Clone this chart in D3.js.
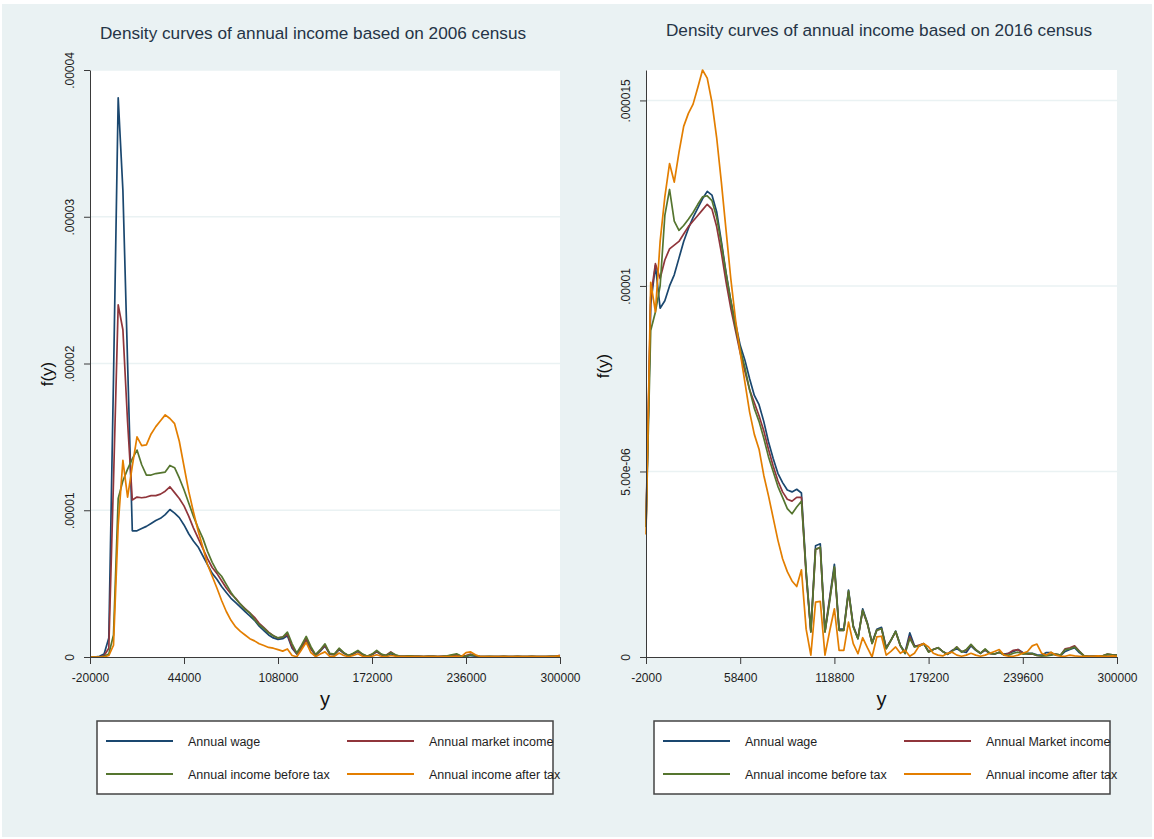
<!DOCTYPE html>
<html>
<head>
<meta charset="utf-8">
<script src="https://cdn.jsdelivr.net/npm/d3@7"></script>
<style>
  body { margin: 0; background: #fff; }
  text { font-family: "Liberation Sans", Arial, sans-serif; }
</style>
</head>
<body>
<div id="chart"></div>
<script>
// Points where the densities were evaluated (income, dollars)
const x2006 = [
  -20000, -16800, -13600, -10400, -7200, -4000, -800, 2400, 5600, 8800,
  12000, 15200, 18400, 21600, 24800, 28000, 31200, 34400, 37600, 40800,
  44000, 47200, 50400, 53600, 56800, 60000, 63200, 66400, 69600, 72800,
  76000, 79200, 82400, 85600, 88800, 92000, 95200, 98400, 101600, 104800,
  108000, 111200, 114400, 117600, 120800, 124000, 127200, 130400, 133600, 136800,
  140000, 143200, 146400, 149600, 152800, 156000, 159200, 162400, 165600, 168800,
  172000, 175200, 178400, 181600, 184800, 188000, 191200, 194400, 197600, 200800,
  204000, 207200, 210400, 213600, 216800, 220000, 223200, 226400, 229600, 232800,
  236000, 239200, 242400, 245600, 248800, 252000, 255200, 258400, 261600, 264800,
  268000, 271200, 274400, 277600, 280800, 284000, 287200, 290400, 293600, 296800,
  300000
];
const x2016 = [
  -2000, 1020, 4040, 7060, 10080, 13100, 16120, 19140, 22160, 25180,
  28200, 31220, 34240, 37260, 40280, 43300, 46320, 49340, 52360, 55380,
  58400, 61420, 64440, 67460, 70480, 73500, 76520, 79540, 82560, 85580,
  88600, 91620, 94640, 97660, 100680, 103700, 106720, 109740, 112760, 115780,
  118800, 121820, 124840, 127860, 130880, 133900, 136920, 139940, 142960, 145980,
  149000, 152020, 155040, 158060, 161080, 164100, 167120, 170140, 173160, 176180,
  179200, 182220, 185240, 188260, 191280, 194300, 197320, 200340, 203360, 206380,
  209400, 212420, 215440, 218460, 221480, 224500, 227520, 230540, 233560, 236580,
  239600, 242620, 245640, 248660, 251680, 254700, 257720, 260740, 263760, 266780,
  269800, 272820, 275840, 278860, 281880, 284900, 287920, 290940, 293960, 296980,
  300000
];

// Density values, in units of 1e-6
const wage2006 = [
  0, 0, 0.05, 0.2, 1.3, 19, 38.1, 31.8, 20, 8.6,
  8.6, 8.75, 8.9, 9.1, 9.3, 9.45, 9.7, 10.05, 9.8, 9.5,
  9.0, 8.4, 7.9, 7.5, 6.9, 6.3, 5.7, 5.3, 4.8, 4.4,
  4.0, 3.7, 3.4, 3.1, 2.8, 2.5, 2.1, 1.8, 1.5, 1.3,
  1.2, 1.25, 1.45, 0.6, 0.2, 0.6, 1.1, 0.55, 0.12, 0.4,
  0.75, 0.2, 0.15, 0.5, 0.25, 0.08, 0.2, 0.38, 0.15, 0.04,
  0.15, 0.35, 0.15, 0.08, 0.22, 0.1, 0.04, 0.04, 0.06, 0.04,
  0.04, 0.02, 0.04, 0.04, 0.02, 0.04, 0.06, 0.1, 0.15, 0.04,
  0.04, 0.1, 0.06, 0.02, 0.02, 0.03, 0.02, 0.02, 0.03, 0.02,
  0.02, 0.03, 0.02, 0.02, 0.03, 0.02, 0.02, 0.02, 0.03, 0.02, 0.03
];
const market2006 = [
  0, 0, 0, 0.1, 0.6, 12, 24.0, 22.3, 16, 10.7,
  10.9, 10.85, 10.9, 11.0, 11.0, 11.1, 11.3, 11.6, 11.2, 10.8,
  10.3, 9.6, 8.8, 8.1, 7.4, 6.7, 6.1, 5.7, 5.2, 4.7,
  4.3, 4.0, 3.6, 3.3, 3.0, 2.7, 2.3, 2.0, 1.7, 1.45,
  1.3, 1.35, 1.55, 0.7, 0.22, 0.7, 1.25, 0.6, 0.14, 0.45,
  0.8, 0.22, 0.18, 0.55, 0.28, 0.08, 0.22, 0.4, 0.16, 0.05,
  0.18, 0.38, 0.16, 0.12, 0.35, 0.12, 0.04, 0.04, 0.06, 0.05,
  0.04, 0.03, 0.05, 0.04, 0.03, 0.05, 0.06, 0.12, 0.15, 0.06,
  0.1, 0.2, 0.08, 0.03, 0.02, 0.03, 0.03, 0.02, 0.04, 0.02,
  0.02, 0.04, 0.03, 0.02, 0.04, 0.02, 0.03, 0.02, 0.04, 0.05, 0.12
];
const beforeTax2006 = [
  0, 0, 0, 0.05, 0.2, 1.5, 10.8, 12.0, 12.8, 13.5,
  14.1, 13.1, 12.4, 12.4, 12.5, 12.55, 12.6, 13.05, 12.9, 12.2,
  11.4, 10.5, 9.6, 8.8, 8.1, 7.2, 6.45, 5.85, 5.5, 4.95,
  4.4, 3.95, 3.6, 3.25, 3.0, 2.55, 2.2, 1.95, 1.65, 1.45,
  1.3, 1.35, 1.7, 0.9, 0.27, 0.8, 1.4, 0.7, 0.16, 0.5,
  0.9, 0.25, 0.2, 0.6, 0.3, 0.1, 0.25, 0.45, 0.2, 0.05,
  0.2, 0.45, 0.2, 0.1, 0.3, 0.15, 0.05, 0.05, 0.08, 0.05,
  0.05, 0.03, 0.05, 0.05, 0.03, 0.05, 0.08, 0.15, 0.22, 0.05,
  0.05, 0.15, 0.1, 0.03, 0.03, 0.04, 0.03, 0.03, 0.04, 0.03,
  0.03, 0.05, 0.03, 0.03, 0.04, 0.03, 0.03, 0.03, 0.05, 0.04, 0.04
];
const afterTax2006 = [
  0, 0, 0, 0, 0.1, 0.8, 9.0, 13.4, 10.9, 13.0,
  15.0, 14.4, 14.45, 15.2, 15.7, 16.1, 16.5, 16.25, 15.9, 14.7,
  13.0, 11.3, 9.9, 8.6, 7.5, 6.3, 5.5, 4.7, 3.85, 3.1,
  2.5, 2.05, 1.75, 1.5, 1.25, 1.1, 0.9, 0.78, 0.65, 0.6,
  0.5, 0.4, 0.55, 0.1, 0.02, 0.5, 1.0, 0.3, 0.02, 0.2,
  0.35, 0.05, 0.05, 0.27, 0.1, 0.02, 0.1, 0.22, 0.05, 0.02,
  0.05, 0.15, 0.05, 0.02, 0.1, 0.05, 0.02, 0.02, 0.03, 0.02,
  0.02, 0.02, 0.03, 0.02, 0.02, 0.03, 0.02, 0.03, 0.05, 0.02,
  0.3, 0.35, 0.15, 0.03, 0.02, 0.02, 0.03, 0.02, 0.02, 0.02,
  0.02, 0.02, 0.03, 0.02, 0.02, 0.03, 0.02, 0.02, 0.03, 0.05, 0.08
];

const wage2016 = [
  3.5, 9.5, 10.55, 9.4, 9.6, 10.0, 10.3, 10.75, 11.2, 11.55,
  11.85, 12.1, 12.35, 12.55, 12.45, 12.0, 11.2, 10.35, 9.6, 9.0,
  8.4, 8.0, 7.5, 7.05, 6.8, 6.35, 5.8, 5.35, 4.95, 4.7,
  4.5, 4.45, 4.52, 4.42, 2.3, 0.7, 3.0, 3.05, 0.7, 1.6,
  2.5, 0.75, 0.75, 1.8, 0.85, 0.5, 1.3, 0.92, 0.38, 0.75,
  0.8, 0.25, 0.45, 0.7, 0.32, 0.12, 0.65, 0.3, 0.3, 0.35,
  0.15, 0.2, 0.25, 0.15, 0.08, 0.18, 0.22, 0.15, 0.12, 0.3,
  0.18, 0.1, 0.18, 0.1, 0.08, 0.12, 0.08, 0.1, 0.15, 0.2,
  0.12, 0.1, 0.1, 0.06, 0.05, 0.12, 0.12, 0.05, 0.04, 0.15,
  0.2, 0.25, 0.12, 0.03, 0.02, 0.02, 0.02, 0.03, 0.06, 0.05, 0.05
];
const market2016 = [
  3.6, 9.7, 10.6, 10.2, 10.7, 11.0, 11.1, 11.2, 11.4, 11.6,
  11.75, 11.9, 12.05, 12.2, 12.07, 11.6, 10.9, 10.1, 9.4, 8.8,
  8.2, 7.7, 7.2, 6.85, 6.5, 6.1, 5.6, 5.15, 4.75, 4.45,
  4.25, 4.2, 4.3, 4.3, 2.2, 0.68, 2.9, 2.95, 0.68, 1.55,
  2.4, 0.72, 0.72, 1.75, 0.82, 0.5, 1.25, 0.9, 0.37, 0.72,
  0.76, 0.23, 0.45, 0.68, 0.3, 0.1, 0.55, 0.28, 0.32, 0.36,
  0.14, 0.2, 0.25, 0.15, 0.07, 0.16, 0.27, 0.14, 0.18, 0.33,
  0.2, 0.1, 0.2, 0.1, 0.08, 0.13, 0.06, 0.1, 0.18, 0.2,
  0.1, 0.08, 0.08, 0.04, 0.03, 0.05, 0.06, 0.08, 0.05, 0.22,
  0.25, 0.3, 0.16, 0.03, 0.02, 0.02, 0.02, 0.03, 0.08, 0.06, 0.05
];
const beforeTax2016 = [
  3.5, 8.8, 9.3, 10.0, 11.9, 12.6, 11.75, 11.5, 11.63, 11.8,
  11.98, 12.2, 12.4, 12.43, 12.3, 11.85, 11.14, 10.33, 9.6, 8.9,
  8.3, 7.8, 7.2, 6.7, 6.35, 5.9, 5.4, 5.0, 4.6, 4.3,
  4.0, 3.86, 4.04, 4.2, 2.3, 0.67, 2.9, 2.96, 0.67, 1.5,
  2.43, 0.72, 0.72, 1.78, 0.81, 0.49, 1.26, 0.9, 0.36, 0.72,
  0.76, 0.22, 0.45, 0.69, 0.31, 0.09, 0.5, 0.27, 0.3, 0.36,
  0.13, 0.2, 0.25, 0.15, 0.07, 0.15, 0.27, 0.13, 0.2, 0.34,
  0.2, 0.1, 0.22, 0.1, 0.08, 0.13, 0.05, 0.05, 0.1, 0.13,
  0.08, 0.09, 0.09, 0.04, 0.03, 0.03, 0.05, 0.08, 0.05, 0.2,
  0.22, 0.27, 0.15, 0.03, 0.02, 0.02, 0.02, 0.03, 0.08, 0.06, 0.05
];
const afterTax2016 = [
  3.3, 10.1, 9.3, 11.2, 12.4, 13.3, 12.8, 13.6, 14.3, 14.65,
  14.9, 15.35, 15.82, 15.6, 14.95, 14.0, 12.8, 11.5, 10.2, 9.1,
  8.2, 7.4, 6.6, 6.0, 5.6, 4.9, 4.35, 3.75, 3.15, 2.65,
  2.3, 2.05, 1.9, 2.35, 0.75, 0.05, 1.48, 1.5, 0.05, 0.7,
  1.3, 0.18, 0.18, 0.94, 0.36, 0.09, 0.52, 0.25, 0.0, 0.54,
  0.56, 0.05, 0.15, 0.27, 0.1, 0.18, 0.02, 0.1, 0.3, 0.36,
  0.27, 0.1, 0.05, 0.03, 0.1, 0.13, 0.05, 0.02, 0.05, 0.1,
  0.05, 0.02, 0.05, 0.1, 0.15, 0.2, 0.05, 0.02, 0.02, 0.05,
  0.1, 0.15, 0.3, 0.35, 0.1, 0.05, 0.13, 0.05, 0.02, 0.02,
  0.05, 0.03, 0.02, 0.02, 0.02, 0.02, 0.03, 0.02, 0.02, 0.03, 0.02
];

const names2006 = ['Annual wage', 'Annual market income', 'Annual income before tax', 'Annual income after tax'];
const names2016 = ['Annual wage', 'Annual Market income', 'Annual income before tax', 'Annual income after tax'];

const xTicks2006 = [-20000, 44000, 108000, 172000, 236000, 300000];
const xTicks2016 = [-2000, 58400, 118800, 179200, 239600, 300000];
const yTicks2006 = [0, 10, 20, 30, 40];
const yLabels2006 = ['0', '.00001', '.00002', '.00003', '.00004'];
const yTicks2016 = [0, 5, 10, 15];
const yLabels2016 = ['0', '5.00e-06', '.00001', '.000015'];

const colors = ['#1a476f', '#90353b', '#55752f', '#e37e00'];

const svg = d3.select('#chart')
  .append('svg')
  .attr('width', 1154)
  .attr('height', 839);

svg.append('rect').attr('width', 1154).attr('height', 839).attr('fill', '#fff');
svg.append('rect')
  .attr('x', 2).attr('y', 4)
  .attr('width', 1150).attr('height', 833)
  .attr('fill', '#eaf2f3');

function drawPanel(p) {
  const x = d3.scaleLinear().domain([p.xs[0], p.xs[p.xs.length - 1]]).range([p.left, p.right]);
  const y = d3.scaleLinear().domain([0, p.yMax]).range([657, 70]);

  // plot region
  svg.append('rect')
    .attr('x', p.left).attr('y', 70)
    .attr('width', p.right - p.left).attr('height', 587)
    .attr('fill', '#fff');

  // grid lines
  svg.append('g')
    .selectAll('line')
    .data(p.yTicks.filter(d => d > 0))
    .enter()
    .append('line')
    .attr('x1', p.left).attr('x2', p.right)
    .attr('y1', d => y(d)).attr('y2', d => y(d))
    .attr('stroke', '#eaf2f3')
    .attr('stroke-width', 1.5);

  // density curves
  const line = d3.line()
    .x((d, i) => x(p.xs[i]))
    .y(d => y(d));

  p.series.forEach((s, i) => {
    svg.append('path')
      .datum(s)
      .attr('d', line)
      .attr('fill', 'none')
      .attr('stroke', colors[i])
      .attr('stroke-width', 1.7)
      .attr('stroke-linejoin', 'round');
  });

  // x axis (plain hyphen for negatives, as Stata prints them)
  const xAxis = svg.append('g')
    .attr('transform', 'translate(0,657)')
    .call(d3.axisBottom(x).tickValues(p.xTicks).tickFormat(d => String(d)).tickSize(7).tickSizeOuter(0).tickPadding(9));
  xAxis.select('.domain').attr('stroke', '#3a3a3a');
  xAxis.selectAll('line').attr('stroke', '#3a3a3a');
  xAxis.selectAll('text')
    .style('font-size', '12px')
    .style('fill', '#1e1e1e')
    .style('font-family', '"Liberation Sans", Arial, sans-serif');

  // y axis
  const yAxis = svg.append('g')
    .attr('transform', `translate(${p.left},0)`)
    .call(d3.axisLeft(y).tickValues(p.yTicks).tickFormat((d, i) => p.yLabels[i]).tickSize(6).tickSizeOuter(0));
  yAxis.select('.domain').attr('stroke', '#3a3a3a');
  yAxis.selectAll('line').attr('stroke', '#3a3a3a');
  yAxis.selectAll('text')
    .attr('transform', 'rotate(-90)')
    .attr('x', 0)
    .attr('y', -16)
    .attr('dy', 0)
    .attr('text-anchor', 'middle')
    .style('font-size', '12px')
    .style('fill', '#1e1e1e')
    .style('font-family', '"Liberation Sans", Arial, sans-serif');

  // titles
  svg.append('text')
    .attr('x', p.titleX)
    .attr('y', p.titleY)
    .attr('text-anchor', 'middle')
    .style('font-size', '17.2px')
    .style('fill', '#253446')
    .text(p.title);

  svg.append('text')
    .attr('x', (p.left + p.right) / 2)
    .attr('y', 706)
    .attr('text-anchor', 'middle')
    .style('font-size', '20px')
    .style('fill', '#111')
    .text('y');

  svg.append('text')
    .attr('transform', `translate(${p.left - 37},${p.fyY}) rotate(-90)`)
    .attr('text-anchor', 'middle')
    .style('font-size', '17px')
    .style('fill', '#111')
    .text('f(y)');

  // legend
  const lg = svg.append('g').attr('transform', `translate(${p.legendX},721)`);
  lg.append('rect')
    .attr('width', 456).attr('height', 73)
    .attr('fill', '#fff')
    .attr('stroke', '#444')
    .attr('stroke-width', 1.5);

  const items = lg.selectAll('g.item')
    .data(p.names)
    .enter()
    .append('g')
    .attr('transform', (d, i) => `translate(${(i % 2) * 241},${i < 2 ? 20 : 53})`);
  items.append('line')
    .attr('x1', 9).attr('x2', 76)
    .attr('stroke', (d, i) => colors[i])
    .attr('stroke-width', 2);
  items.append('text')
    .attr('x', 91)
    .attr('y', 4.5)
    .style('font-size', '12.5px')
    .style('fill', '#1e1e1e')
    .text(d => d);
}

drawPanel({
  xs: x2006,
  series: [wage2006, market2006, beforeTax2006, afterTax2006],
  names: names2006,
  xTicks: xTicks2006,
  yTicks: yTicks2006,
  yLabels: yLabels2006,
  yMax: 40,
  left: 90, right: 560,
  title: 'Density curves of annual income based on 2006 census',
  titleX: 313, titleY: 39,
  fyY: 374,
  legendX: 97
});

drawPanel({
  xs: x2016,
  series: [wage2016, market2016, beforeTax2016, afterTax2016],
  names: names2016,
  xTicks: xTicks2016,
  yTicks: yTicks2016,
  yLabels: yLabels2016,
  yMax: 15.82,
  left: 646, right: 1117,
  title: 'Density curves of annual income based on 2016 census',
  titleX: 879, titleY: 36,
  fyY: 366,
  legendX: 654
});
</script>
</body>
</html>
